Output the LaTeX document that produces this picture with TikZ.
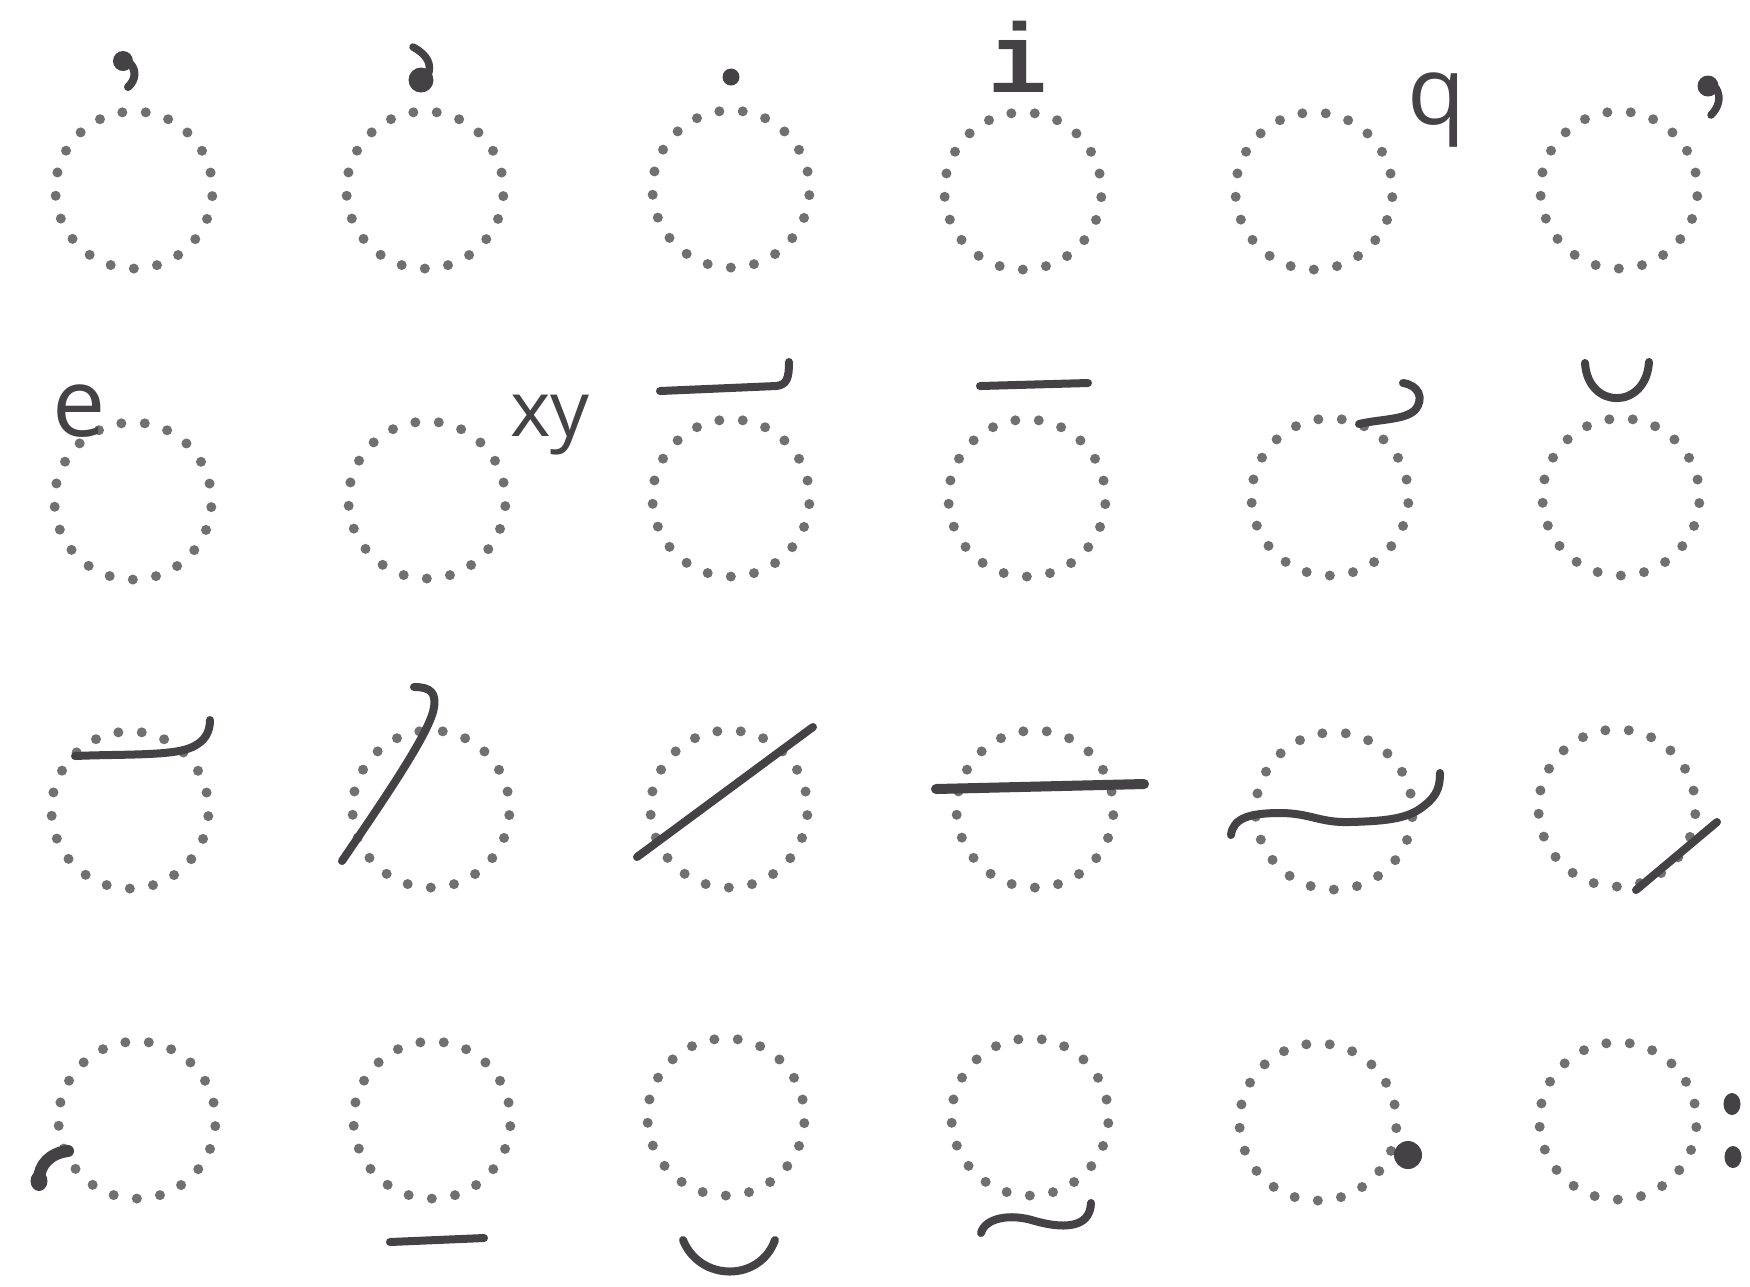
\documentclass[tikz,border=0pt]{standalone}
\usepackage{fontspec}
\usetikzlibrary{positioning}
\newfontfamily\handfont{Open Sans}
\newfontfamily\slabfont{Liberation Mono}
\definecolor{dotgray}{RGB}{112,112,112}
\definecolor{inkdark}{RGB}{68,66,68}

\begin{document}
\begin{tikzpicture}[
    x=0.01cm, y=-0.01cm,
    ring/.style={circle, draw=dotgray, minimum size=1.57cm, inner sep=0pt, line width=0.1cm, line cap=round, dash pattern=on 0pt off 6.68pt, dash phase=1.67pt},
    penline/.style={draw=inkdark, line width=0.08cm, line cap=round, line join=round},
    blob/.style={fill=inkdark},
    glyph/.style={inner sep=0pt, text=inkdark}
]
    \fill[white] (0,0) rectangle (1750,1285);

    % Row 1: marks above
    \node[ring] (a1) at (134,190) {};
    \node[ring] (a2) at (425,190) {};
    \node[ring] (a3) at (731,189) {};
    \node[ring] (a4) at (1023,191) {};
    \node[ring] (a5) at (1314,191) {};
    \node[ring] (a6) at (1619,190) {};

    \fill[blob] (123,61) circle (10);
    \draw[penline, line width=0.08cm] (126,60) .. controls (138,68) and (136,80) .. (128,87);
    \fill[blob] (421,80) circle (12.5);
    \draw[penline, line width=0.075cm] (413,47) .. controls (428,55) and (432,65) .. (428,75);
    \fill[blob] (731,77) circle (8.5);
    \node[glyph, font=\slabfont\bfseries\fontsize{28}{28}\selectfont] (ia4) at (1018,57) {i};
    \node[glyph, font=\handfont\fontsize{27}{27}\selectfont] (qa5) at (1437,110) {q};
    \fill[blob] (1708,86) circle (10.5);
    \draw[penline, line width=0.075cm] (1716,88) .. controls (1722,98) and (1718,108) .. (1711,115);

    % Row 2: marks at the top
    \node[ring] (b1) at (133,501) {};
    \node[ring] (b2) at (427,500) {};
    \node[ring] (b3) at (731,498) {};
    \node[ring] (b4) at (1027,498) {};
    \node[ring] (b5) at (1330,497) {};
    \node[ring] (b6) at (1621,497) {};

    \node[glyph, font=\handfont\fontsize{27}{27}\selectfont] (eb1) at (79,411) {e};
    \node[glyph, font=\handfont\fontsize{22}{22}\selectfont] (xyb2) at (550,425) {xy};
    \draw[penline] (660,391) -- (776,386) .. controls (787,385) and (789,378) .. (789,362);
    \draw[penline] (980,386) -- (1088,383);
    \draw[penline] (1359,424) .. controls (1380,419) and (1405,420) .. (1415,410) .. controls (1425,398) and (1418,385) .. (1403,383);
    \draw[penline] (1585,363) .. controls (1588,410) and (1646,410) .. (1649,362);

    % Row 3: marks through the ring
    \node[ring] (c1) at (130,810) {};
    \node[ring] (c2) at (431,809) {};
    \node[ring] (c3) at (729,809) {};
    \node[ring] (c4) at (1035,809) {};
    \node[ring] (c5) at (1334,811) {};
    \node[ring] (c6) at (1617,808) {};

    \draw[penline] (75,756) .. controls (120,754) and (170,756) .. (190,748) .. controls (205,742) and (210,732) .. (210,720);
    \draw[penline] (342,861) .. controls (380,805) and (425,740) .. (433,712) .. controls (438,692) and (430,687) .. (414,687);
    \draw[penline] (637,857) -- (813,727);
    \draw[penline, line width=0.1cm] (936,789) -- (1144,784);
    \draw[penline] (1231,835) .. controls (1233,818) and (1250,813) .. (1280,813) .. controls (1310,813) and (1320,823) .. (1350,822) .. controls (1390,821) and (1410,818) .. (1425,805) .. controls (1438,795) and (1440,785) .. (1440,773);
    \draw[penline] (1636,890) -- (1717,822);

    % Row 4: marks below and beside
    \node[ring] (d1) at (137,1120) {};
    \node[ring] (d2) at (432,1120) {};
    \node[ring] (d3) at (726,1117) {};
    \node[ring] (d4) at (1030,1117) {};
    \node[ring] (d5) at (1318,1122) {};
    \node[ring] (d6) at (1618,1121) {};

    \draw[penline, line width=0.12cm] (68,1151) .. controls (50,1153) and (39,1165) .. (39,1180);
    \fill[blob] (39,1181) ellipse (8.5 and 10);
    \draw[penline] (390,1242) -- (484,1238);
    \draw[penline] (683,1240) .. controls (700,1282) and (760,1282) .. (775,1240);
    \draw[penline] (981,1233) .. controls (985,1218) and (1010,1213) .. (1035,1221) .. controls (1060,1228) and (1090,1230) .. (1091,1203);
    \fill[blob] (1408,1155) circle (14);
    \fill[blob] (1732,1104) ellipse (8.5 and 11);
    \fill[blob] (1733,1157) ellipse (8.5 and 11);
\end{tikzpicture}
\end{document}
